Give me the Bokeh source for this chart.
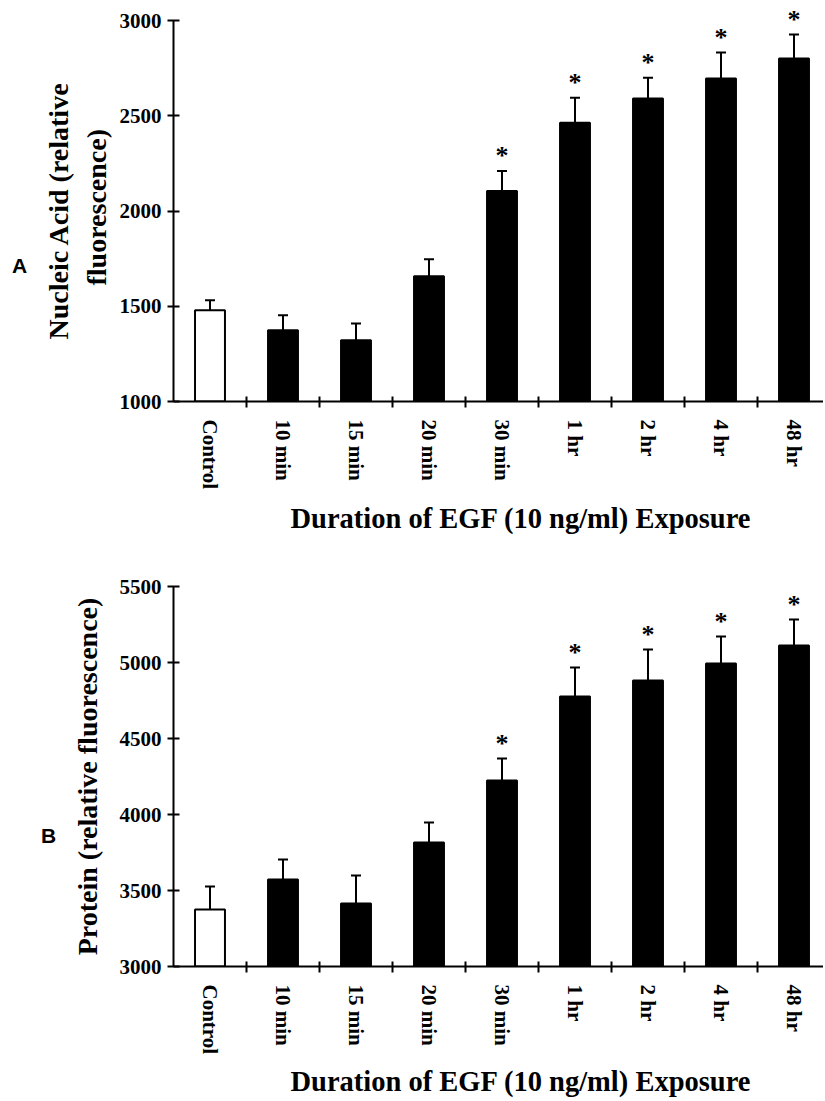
from bokeh.plotting import figure
from bokeh.layouts import column, row
from bokeh.models import ColumnDataSource, FixedTicker, Whisker, TeeHead, Div, Title
from bokeh.core.properties import value
from bokeh.embed import file_html
from bokeh.resources import INLINE

categories = ["Control", "10 min", "15 min", "20 min", "30 min", "1 hr", "2 hr", "4 hr", "48 hr"]
nucleic_mean = [1479, 1374, 1321, 1658, 2105, 2463, 2590, 2695, 2800]
nucleic_err = [53, 79, 89, 89, 105, 131, 110, 137, 126]
protein_mean = [3375, 3572, 3414, 3816, 4224, 4776, 4882, 4993, 5112]
protein_err = [151, 132, 185, 131, 144, 191, 204, 178, 171]
significant = [False, False, False, False, True, True, True, True, True]

nucleic_ticks = [1000, 1500, 2000, 2500, 3000]
protein_ticks = [3000, 3500, 4000, 4500, 5000, 5500]
x_title = "Duration of EGF (10 ng/ml) Exposure"
nucleic_title_lines = ["Nucleic Acid (relative", "fluorescence)"]
protein_title = "Protein (relative fluorescence)"

SERIF = "Liberation Serif"
SANS = "Liberation Sans"
FRAME_W = 650
X_END = FRAME_W / 73.0


def make_panel(means, errs, yticks, y_end, frame_h, left_b, top_b, bot_b, xtitle_standoff):
    ymin, ymax = yticks[0], yticks[-1]
    xs = [i + 0.5 for i in range(len(categories))]
    uppers = [m + e for m, e in zip(means, errs)]
    colors = ["white" if c == "Control" else "black" for c in categories]
    src = ColumnDataSource(dict(x=xs, m=means, u=uppers, c=colors))

    p = figure(frame_width=FRAME_W, frame_height=frame_h,
               x_range=(0, X_END), y_range=(ymin, y_end),
               output_backend="svg", toolbar_location=None,
               min_border_left=left_b, min_border_right=0,
               min_border_top=top_b, min_border_bottom=bot_b)
    p.outline_line_color = None
    p.xgrid.visible = False
    p.ygrid.visible = False
    p.background_fill_color = "white"

    p.vbar(x="x", width=0.41, top="m", bottom=ymin, source=src,
           fill_color="c", line_color="black", line_width=2)
    p.add_layout(Whisker(source=src, base="x", lower="m", upper="u",
                         line_color="black", line_width=2,
                         lower_head=None,
                         upper_head=TeeHead(size=10, line_width=2, line_color="black")))

    sx = [x for x, s in zip(xs, significant) if s]
    sy = [u for u, s in zip(uppers, significant) if s]
    p.text(x=sx, y=sy, text=["*"] * len(sx), text_font=value(SERIF),
           text_font_style="bold", text_font_size="26px", text_color="black",
           text_align="center", text_baseline="middle", y_offset=-15)

    # x axis
    xa = p.xaxis[0]
    xa.ticker = FixedTicker(ticks=xs, minor_ticks=[float(i) for i in range(1, len(categories))])
    xa.major_label_overrides = {x: c for x, c in zip(xs, categories)}
    xa.major_label_orientation = "vertical"
    xa.major_tick_in = 0
    xa.major_tick_out = 0
    xa.major_tick_line_color = None
    xa.minor_tick_in = 5
    xa.minor_tick_out = 6
    xa.minor_tick_line_width = 2
    xa.minor_tick_line_color = "black"
    xa.axis_line_width = 2
    xa.axis_line_color = "black"
    xa.major_label_standoff = 12
    xa.major_label_text_font = SERIF
    xa.major_label_text_font_style = "bold"
    xa.major_label_text_font_size = "21px"
    xa.major_label_text_color = "black"

    p.add_layout(Title(text=x_title, align="left", offset=117,
                       vertical_align="top", standoff=xtitle_standoff,
                       text_font=SERIF, text_font_style="bold",
                       text_font_size="28.5px", text_color="black"), "below")

    # y axis
    ya = p.yaxis[0]
    ya.ticker = FixedTicker(ticks=yticks)
    ya.bounds = (ymin, ymax)
    ya.major_tick_in = 6
    ya.major_tick_out = 6
    ya.major_tick_line_width = 2
    ya.major_tick_line_color = "black"
    ya.minor_tick_line_color = None
    ya.axis_line_width = 2
    ya.axis_line_color = "black"
    ya.major_label_standoff = 6
    ya.major_label_text_font = SERIF
    ya.major_label_text_font_style = "bold"
    ya.major_label_text_font_size = "21px"
    ya.major_label_text_color = "black"
    return p


def y_title(p, text, offset, standoff):
    p.add_layout(Title(text=text, align="left", offset=offset,
                       vertical_align="bottom", standoff=standoff,
                       text_font=SERIF, text_font_style="bold",
                       text_font_size="28px", text_color="black"), "left")


def letter_div(letter, width, height, pad_left, pad_top):
    html = ('<div style="padding-left:%dpx;padding-top:%dpx;'
            'font-family:\'%s\';font-weight:bold;font-size:21px;'
            'line-height:21px;color:black;">%s</div>') % (pad_left, pad_top, SANS, letter)
    return Div(text=html, width=width, height=height, margin=0)


pA = make_panel(nucleic_mean, nucleic_err, nucleic_ticks, 3105, 401, 136, 0, 147, 20)
# two-line y title of panel A, each line centred on the 1000-3000 axis
y_title(pA, nucleic_title_lines[1], 116, 10)
y_title(pA, nucleic_title_lines[0], 62, 0)

pB = make_panel(protein_mean, protein_err, protein_ticks, 5500, 380, 113, 38, 134, 16)
pB.yaxis[0].axis_label = protein_title
pB.yaxis[0].axis_label_text_font = SERIF
pB.yaxis[0].axis_label_text_font_style = "bold"
pB.yaxis[0].axis_label_text_font_size = "28px"
pB.yaxis[0].axis_label_text_color = "black"
pB.yaxis[0].axis_label_standoff = 14

dA = letter_div("A", 37, 548, 12, 255)
dB = letter_div("B", 60, 552, 41, 277)

layout = column(row(dA, pA, spacing=0), row(dB, pB, spacing=0), spacing=0)
open("out.html", "w").write(file_html(layout, INLINE))
